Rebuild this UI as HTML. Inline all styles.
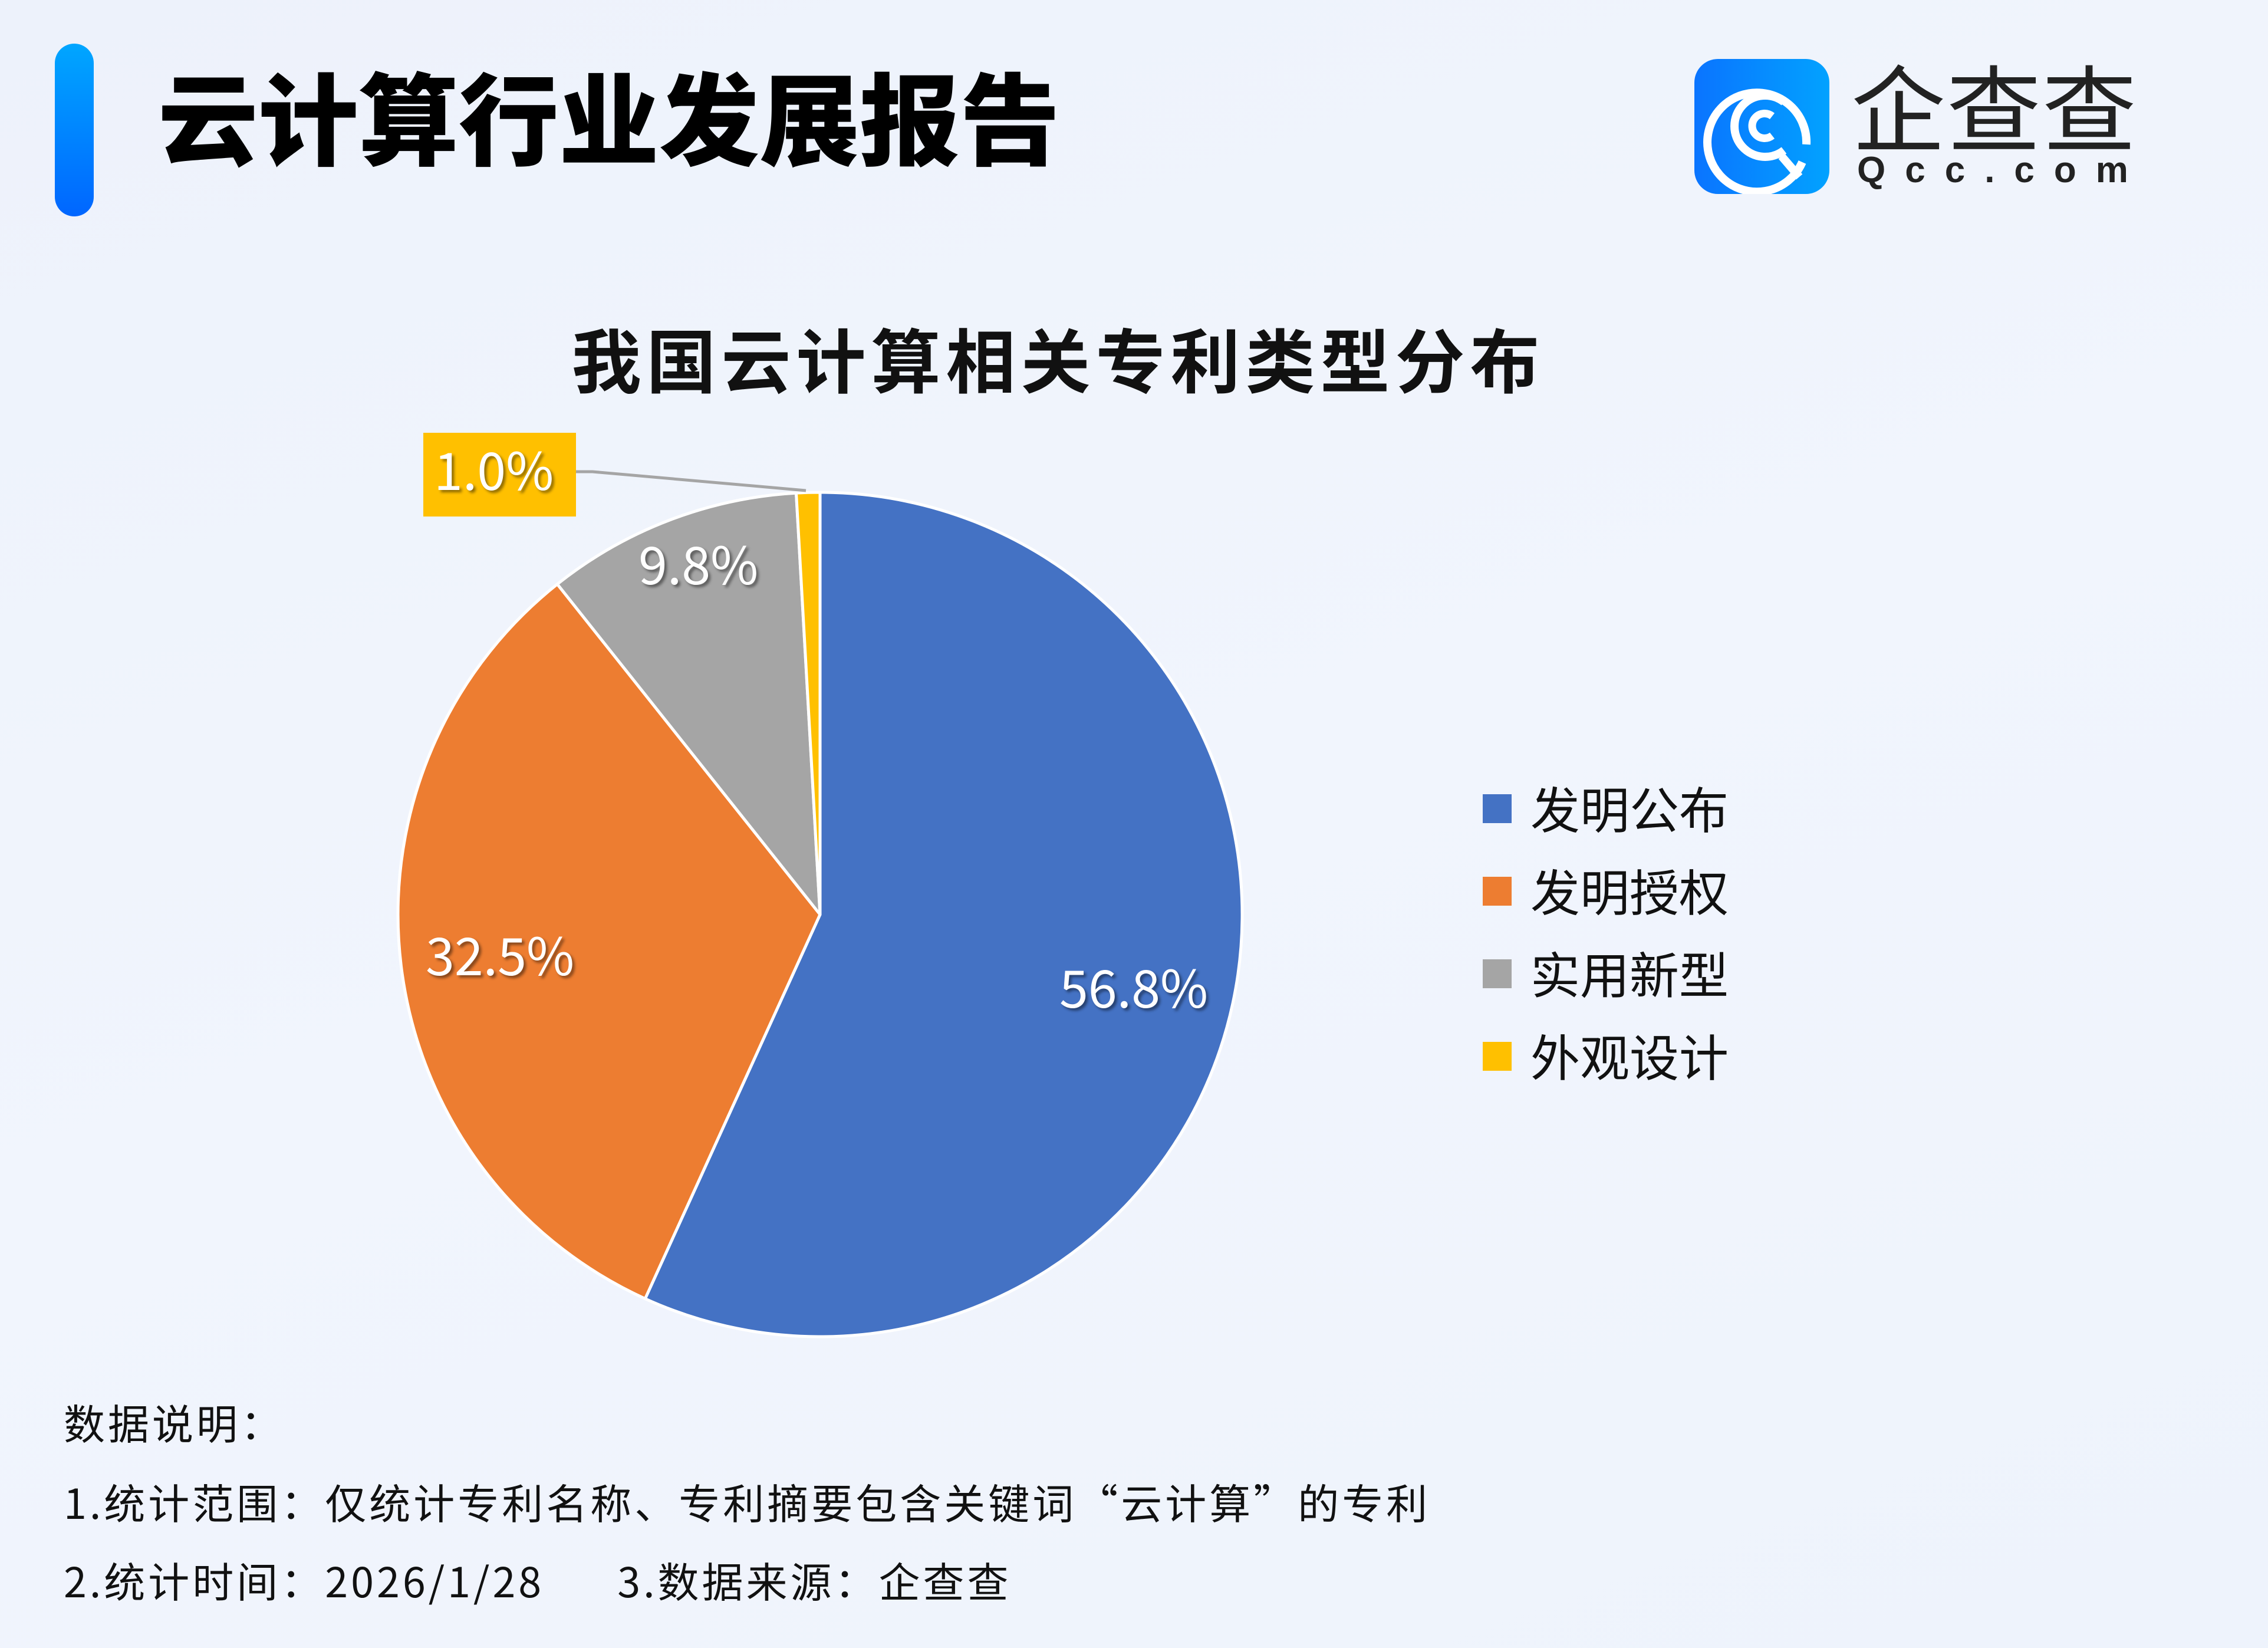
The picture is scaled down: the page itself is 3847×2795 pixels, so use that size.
<!DOCTYPE html>
<html><head><meta charset="utf-8"><style>
html,body{margin:0;padding:0}
body{width:3847px;height:2795px;position:relative;overflow:hidden;background:linear-gradient(160deg,#edf2fb 0%,#f1f5fd 50%,#eef3fc 100%);font-family:"Liberation Sans","Noto Sans CJK SC",sans-serif}
.a{position:absolute;white-space:nowrap}
.lab{font-family:"Noto Sans CJK SC","Liberation Sans",sans-serif;color:#fff;font-size:88px;text-shadow:4px 4px 5px rgba(0,0,0,.45)}
.leg{font-family:"Noto Sans CJK SC",sans-serif;font-size:84px;color:#111;line-height:1}
.sq{position:absolute;width:49px;height:49px}
.ft{font-family:"Noto Sans CJK SC",sans-serif;font-size:70px;color:#111;line-height:1;letter-spacing:5px}
</style></head><body>
<div class="a" style="left:93px;top:74px;width:66px;height:293px;border-radius:33px;background:linear-gradient(#00a6ff,#0066ff)"></div>
<div class="a" style="left:268px;top:100px;font-family:'Noto Sans CJK SC',sans-serif;font-weight:900;font-size:170px;letter-spacing:0px;line-height:1.1;color:#000">云计算行业发展报告</div>

<div class="a" style="left:2874px;top:100px;width:229px;height:229px;border-radius:40px;background:linear-gradient(90deg,#0a74ff,#02a2ff)"></div>
<svg class="a" style="left:2874px;top:100px" width="229" height="229" viewBox="0 0 229 229">
<g fill="none" stroke="#fff" stroke-linecap="butt">
<path d="M183 175 A84 84 0 1 1 190 145" stroke-width="14"/>
<path d="M152 73 A52 52 0 1 0 152 155" stroke-width="14"/>
<path d="M132 97 A21 21 0 1 0 132 130" stroke-width="13"/>
<path d="M148 165 L178 200" stroke-width="14"/>
</g></svg>
<div class="a" style="left:3140px;top:96px;font-family:'Noto Sans CJK SC',sans-serif;font-size:160px;line-height:1;color:#222;letter-spacing:2px">企查查</div>
<div class="a" style="left:3150px;top:258px;font-family:'Liberation Sans',sans-serif;font-weight:bold;font-size:62px;line-height:1;color:#222;letter-spacing:33px">Qcc.com</div>

<div class="a" style="left:0;width:3590px;text-align:center;top:535px;font-family:'Noto Sans CJK SC',sans-serif;font-weight:700;font-size:118px;letter-spacing:9px;line-height:1.2;color:#111">我国云计算相关专利类型分布</div>

<svg class="a" style="left:0;top:0" width="3847" height="2795">
<g stroke="#fff" stroke-width="5" stroke-linejoin="round">
<path d="M1391 1551 L1391 835 A716 716 0 1 1 1094.3 2202.6 Z" fill="#4472c4"/>
<path d="M1391 1551 L1094.3 2202.6 A716 716 0 0 1 945.3 990.7 Z" fill="#ed7d31"/>
<path d="M1391 1551 L945.3 990.7 A716 716 0 0 1 1350.5 836.1 Z" fill="#a5a5a5"/>
<path d="M1391 1551 L1350.5 836.1 A716 716 0 0 1 1391 835 Z" fill="#ffc000"/>
</g>
<path d="M977 800 L1005 800 L1367 832" stroke="#a5a5a5" stroke-width="5" fill="none"/>
<rect x="718" y="734" width="259" height="142" fill="#ffc000"/>
</svg>
<div class="a lab" style="left:736px;top:730px">1.0%</div>
<div class="a lab" style="left:1083px;top:890px">9.8%</div>
<div class="a lab" style="left:722px;top:1553px">32.5%</div>
<div class="a lab" style="left:1797px;top:1608px">56.8%</div>

<div class="sq" style="left:2515px;top:1347px;background:#4472c4"></div>
<div class="sq" style="left:2515px;top:1487px;background:#ed7d31"></div>
<div class="sq" style="left:2515px;top:1627px;background:#a5a5a5"></div>
<div class="sq" style="left:2515px;top:1767px;background:#ffc000"></div>
<div class="a leg" style="left:2596px;top:1328px">发明公布</div>
<div class="a leg" style="left:2596px;top:1468px">发明授权</div>
<div class="a leg" style="left:2596px;top:1608px">实用新型</div>
<div class="a leg" style="left:2596px;top:1748px">外观设计</div>

<div class="a ft" style="left:108px;top:2377px">数据说明：</div>
<div class="a ft" style="left:108px;top:2512px">1.统计范围：仅统计专利名称、专利摘要包含关键词“云计算”的专利</div>
<div class="a ft" style="left:108px;top:2645px">2.统计时间：2026/1/28&nbsp;&nbsp;&nbsp;&nbsp;&nbsp;&nbsp;3.数据来源：企查查</div>
</body></html>
